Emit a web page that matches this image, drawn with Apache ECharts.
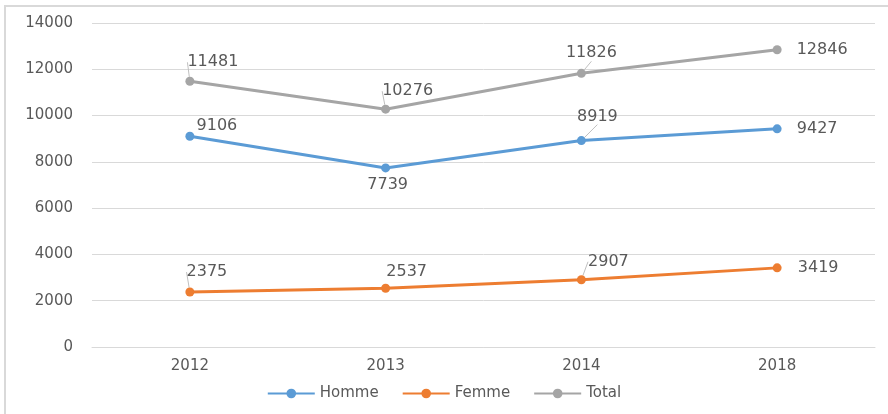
<!DOCTYPE html>
<html>
<head>
<meta charset="utf-8">
<script src="https://cdn.jsdelivr.net/npm/echarts@6/dist/echarts.min.js"></script>
<style>html,body{margin:0;padding:0;background:#fff;}#c{width:888px;height:414px;}</style>
</head>
<body>
<div id="c"></div>
<script>
const categories = ['2012', '2013', '2014', '2018'];
const homme = [9106, 7739, 8919, 9427];
const femme = [2375, 2537, 2907, 3419];
const total = [11481, 10276, 11826, 12846];
const yTicks = [0, 2000, 4000, 6000, 8000, 10000, 12000, 14000];

// label offsets (dx, dy) relative to point, and whether a leader line is drawn
const hommeLab = [[27, -10, false], [2, 17, false], [16, -24, true], [40, 0, false]];
const femmeLab = [[17, -20, true], [21, -16, false], [27, -18, true], [41, 0, false]];
const totalLab = [[23, -19, true], [22, -18, true], [10, -20, true], [45, 0, false]];

const txt = '#595959';
const font = 'DejaVu Sans';

function mk(vals, labs) {
  return vals.map((v, i) => ({
    value: v,
    label: { offset: [labs[i][0], labs[i][1]] },
    labelLine: { show: labs[i][2], lineStyle: { color: '#BFBFBF', width: 1 } }
  }));
}

function series(name, vals, labs, color) {
  return {
    name: name,
    type: 'line',
    data: mk(vals, labs),
    symbol: 'circle',
    symbolSize: 9,
    lineStyle: { color: color, width: 3 },
    itemStyle: { color: color },
    label: {
      show: true,
      position: 'inside',
      color: txt,
      fontFamily: font,
      fontSize: 16,
      align: 'center',
      verticalAlign: 'middle'
    },
    labelLine: { show: false },
    emphasis: { disabled: true },
    animation: false
  };
}

const chart = echarts.init(document.getElementById('c'));
chart.setOption({
  animation: false,
  graphic: [{
    type: 'rect',
    shape: { x: 5, y: 6, width: 900, height: 420 },
    style: { fill: 'none', stroke: '#D9D9D9', lineWidth: 2 },
    silent: true
  }],
  grid: { left: 92, right: 13, top: 23, bottom: 67 },
  legend: {
    bottom: 8,
    left: 'center',
    itemWidth: 47,
    itemHeight: 12,
    itemGap: 23,
    textStyle: { color: txt, fontFamily: font, fontSize: 15 },
    data: ['Homme', 'Femme', 'Total']
  },
  xAxis: {
    type: 'category',
    data: categories,
    boundaryGap: true,
    axisLine: { lineStyle: { color: '#D9D9D9' } },
    axisTick: { show: false },
    axisLabel: { color: txt, fontFamily: font, fontSize: 15, margin: 12 }
  },
  yAxis: {
    type: 'value',
    min: yTicks[0],
    max: yTicks[yTicks.length - 1],
    interval: 2000,
    axisLine: { show: false },
    axisTick: { show: false },
    splitLine: { lineStyle: { color: '#D9D9D9' } },
    axisLabel: { color: txt, fontFamily: font, fontSize: 15, margin: 19, formatter: v => String(v) }
  },
  series: [
    series('Homme', homme, hommeLab, '#5B9BD5'),
    series('Femme', femme, femmeLab, '#ED7D31'),
    series('Total', total, totalLab, '#A5A5A5')
  ]
});
</script>
</body>
</html>
